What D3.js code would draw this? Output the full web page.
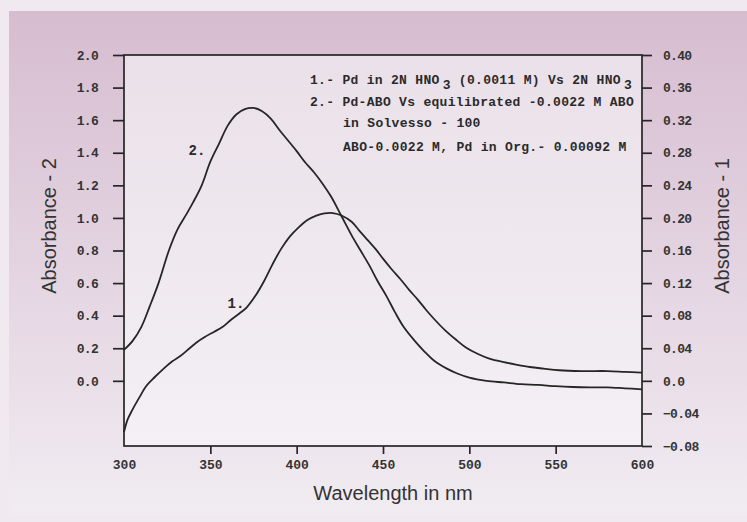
<!DOCTYPE html>
<html>
<head>
<meta charset="utf-8">
<script src="https://cdn.jsdelivr.net/npm/d3@7"></script>
<style>
  html, body { margin: 0; padding: 0; background: #f1ebf0; }
  svg { display: block; }
</style>
</head>
<body>
<svg id="chart" width="747" height="522"></svg>
<script>
// Curve 1: Pd in 2N HNO3, read against the right axis (Absorbance - 1)
const curve1Nm  = [300, 302, 305, 309, 313, 318, 323, 328, 333, 338, 342, 347, 352, 357, 362, 367, 371, 376, 381, 386, 391, 396, 401, 406, 411, 416, 421, 426, 432, 436, 441, 446, 450, 455, 460, 465, 470, 475, 480, 486, 492, 498, 505, 512, 520, 527, 535, 543, 552, 565, 580, 590, 600];
const curve1Abs = [-0.063, -0.048, -0.035, -0.020, -0.006, 0.005, 0.015, 0.024, 0.031, 0.040, 0.047, 0.054, 0.060, 0.066, 0.075, 0.083, 0.090, 0.104, 0.122, 0.143, 0.162, 0.177, 0.188, 0.197, 0.2025, 0.2055, 0.206, 0.203, 0.195, 0.185, 0.173, 0.161, 0.150, 0.137, 0.125, 0.112, 0.100, 0.087, 0.075, 0.062, 0.051, 0.041, 0.033, 0.027, 0.023, 0.020, 0.017, 0.015, 0.013, 0.012, 0.012, 0.011, 0.010];

// Curve 2: Pd-ABO in Solvesso-100, read against the left axis (Absorbance - 2)
const curve2Nm  = [300, 305, 310, 315, 320, 326, 331, 336, 340, 345, 350, 355, 360, 365, 370, 375, 380, 385, 390, 395, 400, 405, 410, 415, 420, 426, 432, 437, 442, 447, 452, 457, 462, 468, 474, 480, 487, 493, 500, 510, 520, 530, 540, 550, 560, 570, 580, 590, 600];
const curve2Abs = [0.19, 0.245, 0.33, 0.46, 0.60, 0.80, 0.93, 1.02, 1.095, 1.20, 1.345, 1.455, 1.565, 1.635, 1.668, 1.675, 1.655, 1.61, 1.54, 1.475, 1.41, 1.34, 1.28, 1.21, 1.13, 1.01, 0.89, 0.80, 0.71, 0.61, 0.52, 0.42, 0.33, 0.25, 0.18, 0.12, 0.075, 0.045, 0.02, 0.00, -0.01, -0.02, -0.025, -0.033, -0.038, -0.04, -0.04, -0.046, -0.052];

// Axis ticks
const xTicks     = [300, 350, 400, 450, 500, 550, 600];
const leftTicks  = [0.0, 0.2, 0.4, 0.6, 0.8, 1.0, 1.2, 1.4, 1.6, 1.8, 2.0];
const rightTicks = [-0.08, -0.04, 0.0, 0.04, 0.08, 0.12, 0.16, 0.20, 0.24, 0.28, 0.32, 0.36, 0.40];

// Legend / annotation text
const legendLines = [
  ["1.- Pd in 2N HNO", "3", " (0.0011 M) Vs 2N HNO", "3"],
  ["2.- Pd-ABO Vs equilibrated -0.0022 M ABO"],
  ["in Solvesso - 100"],
  ["ABO-0.0022 M, Pd in Org.- 0.00092 M"]
];

const svg = d3.select("#chart");
const W = 747, H = 522;
const plot = { left: 124, right: 642, top: 55, bottom: 446 };

// Backgrounds
const defs = svg.append("defs");
const panelGrad = defs.append("linearGradient").attr("id", "panelGrad")
  .attr("x1", 0).attr("y1", 0).attr("x2", 0).attr("y2", 1);
panelGrad.append("stop").attr("offset", "0%").attr("stop-color", "#d6bdd0");
panelGrad.append("stop").attr("offset", "45%").attr("stop-color", "#e2d1df");
panelGrad.append("stop").attr("offset", "100%").attr("stop-color", "#f1ecf2");

const plotGrad = defs.append("linearGradient").attr("id", "plotGrad")
  .attr("x1", 0).attr("y1", 0).attr("x2", 0).attr("y2", 1);
plotGrad.append("stop").attr("offset", "0%").attr("stop-color", "#eae0e9");
plotGrad.append("stop").attr("offset", "100%").attr("stop-color", "#f4f0f5");

svg.append("rect").attr("x", 0).attr("y", 0).attr("width", W).attr("height", H).attr("fill", "#f0e9ef");
svg.append("rect").attr("x", 9).attr("y", 11).attr("width", W - 9).attr("height", 505).attr("fill", "url(#panelGrad)");
svg.append("rect")
  .attr("x", plot.left).attr("y", plot.top)
  .attr("width", plot.right - plot.left).attr("height", plot.bottom - plot.top)
  .attr("fill", "url(#plotGrad)");

// Scales
const x = d3.scaleLinear().domain([300, 600]).range([plot.left, plot.right]);
const yLeft = d3.scaleLinear().domain([-0.4, 2.0]).range([plot.bottom, plot.top]);
const yRight = d3.scaleLinear().domain([-0.08, 0.40]).range([plot.bottom, plot.top]);

const ink = "#262626";
const monoFont = "'Liberation Mono', 'DejaVu Sans Mono', monospace";

function styleAxis(g) {
  g.select(".domain").remove();
  g.selectAll(".tick line").attr("stroke", ink).attr("stroke-width", 1.7);
  g.selectAll(".tick text")
    .attr("fill", "#333")
    .style("font-family", monoFont)
    .style("font-weight", "bold")
    .style("font-size", "13px")
    .style("letter-spacing", "-0.7px");
}

// Left axis
svg.append("g")
  .attr("transform", `translate(${plot.left},0)`)
  .call(d3.axisLeft(yLeft).tickValues(leftTicks).tickSize(11).tickPadding(15)
    .tickFormat(d3.format(".1f")))
  .call(styleAxis);

// Right axis
svg.append("g")
  .attr("transform", `translate(${plot.right},0)`)
  .call(d3.axisRight(yRight).tickValues(rightTicks).tickSize(10).tickPadding(11)
    .tickFormat(d => d === 0 ? "0.0" : d3.format(".2f")(d).replace("-", "\u2212")))
  .call(styleAxis);

// Bottom axis
const xg = svg.append("g")
  .attr("transform", `translate(0,${plot.bottom})`)
  .call(d3.axisBottom(x).tickValues(xTicks).tickSize(8).tickPadding(6).tickFormat(d3.format("d")))
  .call(styleAxis);
xg.selectAll(".tick text").style("letter-spacing", "0px");
xg.selectAll(".tick").filter(d => d === 300 || d === 600).select("line").remove();

// Frame
svg.append("rect")
  .attr("x", plot.left).attr("y", plot.top)
  .attr("width", plot.right - plot.left).attr("height", plot.bottom - plot.top)
  .attr("fill", "none").attr("stroke", ink).attr("stroke-width", 1.7);

// Curves
const line1 = d3.line()
  .x((d, i) => x(curve1Nm[i]))
  .y(d => yRight(d))
  .curve(d3.curveCatmullRom.alpha(0.5));
const line2 = d3.line()
  .x((d, i) => x(curve2Nm[i]))
  .y(d => yLeft(d))
  .curve(d3.curveCatmullRom.alpha(0.5));

svg.append("path").datum(curve1Abs).attr("d", line1)
  .attr("fill", "none").attr("stroke", ink).attr("stroke-width", 1.8).attr("stroke-linejoin", "round");
svg.append("path").datum(curve2Abs).attr("d", line2)
  .attr("fill", "none").attr("stroke", ink).attr("stroke-width", 1.8).attr("stroke-linejoin", "round");

// Curve labels
svg.append("text").attr("x", 197).attr("y", 155).attr("text-anchor", "middle")
  .style("font-family", monoFont).style("font-weight", "bold").style("font-size", "14px")
  .attr("fill", "#2a2a2a").text("2.");
svg.append("text").attr("x", 236).attr("y", 308).attr("text-anchor", "middle")
  .style("font-family", monoFont).style("font-weight", "bold").style("font-size", "14px")
  .attr("fill", "#2a2a2a").text("1.");

// Legend
const legendX = [310, 310, 343, 343];
const legendY = [84, 106, 127, 151];
legendLines.forEach((parts, i) => {
  const t = svg.append("text")
    .attr("x", legendX[i]).attr("y", legendY[i])
    .attr("fill", "#2a2a2a")
    .style("font-family", monoFont).style("font-weight", "bold")
    .style("font-size", "13px").style("letter-spacing", "0.3px");
  parts.forEach((p, j) => {
    const sp = t.append("tspan").text(p);
    if (p === "3") sp.attr("dx", 3).attr("dy", 5);
    else if (j > 0) sp.attr("dy", -5);
  });
});

// Axis titles
const titleFont = "'Liberation Sans', Arial, sans-serif";
svg.append("text")
  .attr("x", 393).attr("y", 500).attr("text-anchor", "middle")
  .style("font-family", titleFont).style("font-size", "20px").attr("fill", "#333")
  .text("Wavelength in nm");
svg.append("text")
  .attr("transform", "translate(56,226) rotate(-90)").attr("text-anchor", "middle")
  .style("font-family", titleFont).style("font-size", "20px").attr("fill", "#333")
  .text("Absorbance - 2");
svg.append("text")
  .attr("transform", "translate(729,226) rotate(-90)").attr("text-anchor", "middle")
  .style("font-family", titleFont).style("font-size", "20px").attr("fill", "#333")
  .text("Absorbance - 1");
</script>
</body>
</html>
